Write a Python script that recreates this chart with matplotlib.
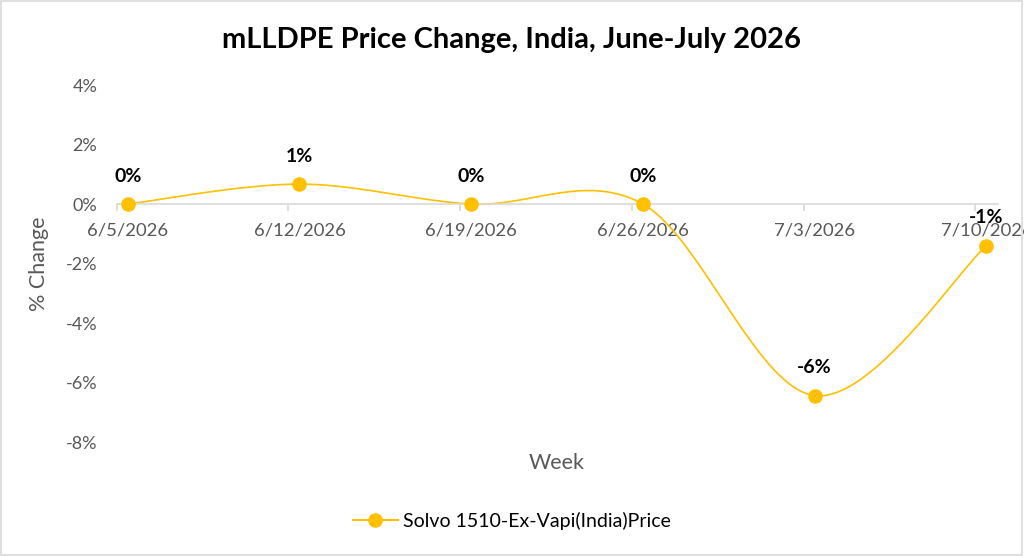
import matplotlib.pyplot as plt
import numpy as np
from matplotlib.lines import Line2D

# data
weeks = ["6/5/2026", "6/12/2026", "6/19/2026", "6/26/2026", "7/3/2026", "7/10/2026"]
change = [0.0, 0.67, 0.0, 0.0, -6.44, -1.40]
labels = ["0%", "1%", "0%", "0%", "-6%", "-1%"]
series_name = "Solvo 1510-Ex-Vapi(India)Price"

gold = "#FFC000"
grey = "#595959"
plt.rcParams["font.family"] = ["Lato", "DejaVu Sans"]


def smooth(xs, ys, n=40):
    # excel-style smoothing: bezier segments with control points from neighbours
    p = np.column_stack([xs, ys]).astype(float)
    out = []
    for i in range(len(p) - 1):
        p0 = p[i - 1] if i > 0 else p[i]
        p3 = p[i + 2] if i + 2 < len(p) else p[i + 1]
        c1 = p[i] + (p[i + 1] - p0) / 6
        c2 = p[i + 1] - (p3 - p[i]) / 6
        t = np.linspace(0, 1, n)[:, None]
        seg = ((1 - t) ** 3 * p[i] + 3 * (1 - t) ** 2 * t * c1
               + 3 * (1 - t) * t ** 2 * c2 + t ** 3 * p[i + 1])
        out.append(seg)
    out = np.vstack(out)
    return out[:, 0], out[:, 1]


x = np.arange(len(weeks))
fig = plt.figure(figsize=(10.24, 5.56), dpi=100)
ax = fig.add_axes([0.114, 0.205, 0.861, 0.642])

sx, sy = smooth(x, change)
ax.plot(sx, sy, color=gold, lw=1.2, zorder=2)
ax.plot(x, change, "o", color=gold, ms=9.5, zorder=3, clip_on=False)

for xi, yi, lab in zip(x, change, labels):
    ax.annotate(lab, (xi, yi), xytext=(0, 20), textcoords="offset points",
                ha="center", va="center", fontsize=14, fontweight="bold", color="black")

ax.set_xlim(-0.064, 5.07)
ax.set_ylim(-8, 4)
ax.set_yticks([4, 2, 0, -2, -4, -6, -8])
ax.set_yticklabels(["4%", "2%", "0%", "-2%", "-4%", "-6%", "-8%"])
ax.tick_params(axis="y", length=0, labelsize=13, labelcolor=grey, pad=14)

for s in ax.spines.values():
    s.set_visible(False)
# category axis runs along the 0% line
ax.spines["bottom"].set_position(("data", 0))
ax.spines["bottom"].set_visible(True)
ax.spines["bottom"].set_color("#d9d9d9")
ax.spines["bottom"].set_linewidth(1.2)

# category labels sit under the points, tick marks just left of them
ax.set_xticks(x)
ax.set_xticklabels(weeks)
ax.tick_params(axis="x", which="major", length=0, labelsize=13.3, labelcolor=grey, pad=13)
ax.set_xticks(x - 0.064, minor=True)
ax.tick_params(axis="x", which="minor", length=5, width=1.2, color="#d9d9d9")

ax.set_ylabel("% Change", fontsize=15.5, color=grey)
ax.yaxis.set_label_coords(-0.077, 0.5)
fig.text(0.544, 0.168, "Week", ha="center", va="center", fontsize=15.5, color=grey)

fig.text(0.5, 0.928, "mLLDPE Price Change, India, June-July 2026", ha="center", va="center",
         fontsize=21, fontweight="bold", color="black")

handle = Line2D([], [], color=gold, lw=1.5, marker="o", ms=9.5)
fig.legend([handle], [series_name], loc="center", bbox_to_anchor=(0.5, 0.063),
           frameon=False, fontsize=14, handlelength=2.3, handletextpad=0.3)

fig.patches.append(plt.Rectangle((0.001, 0.001), 0.997, 0.997, transform=fig.transFigure,
                                 fill=False, edgecolor="#d9d9d9", lw=1.2))

fig.savefig("out.png", dpi=100, facecolor="white")
